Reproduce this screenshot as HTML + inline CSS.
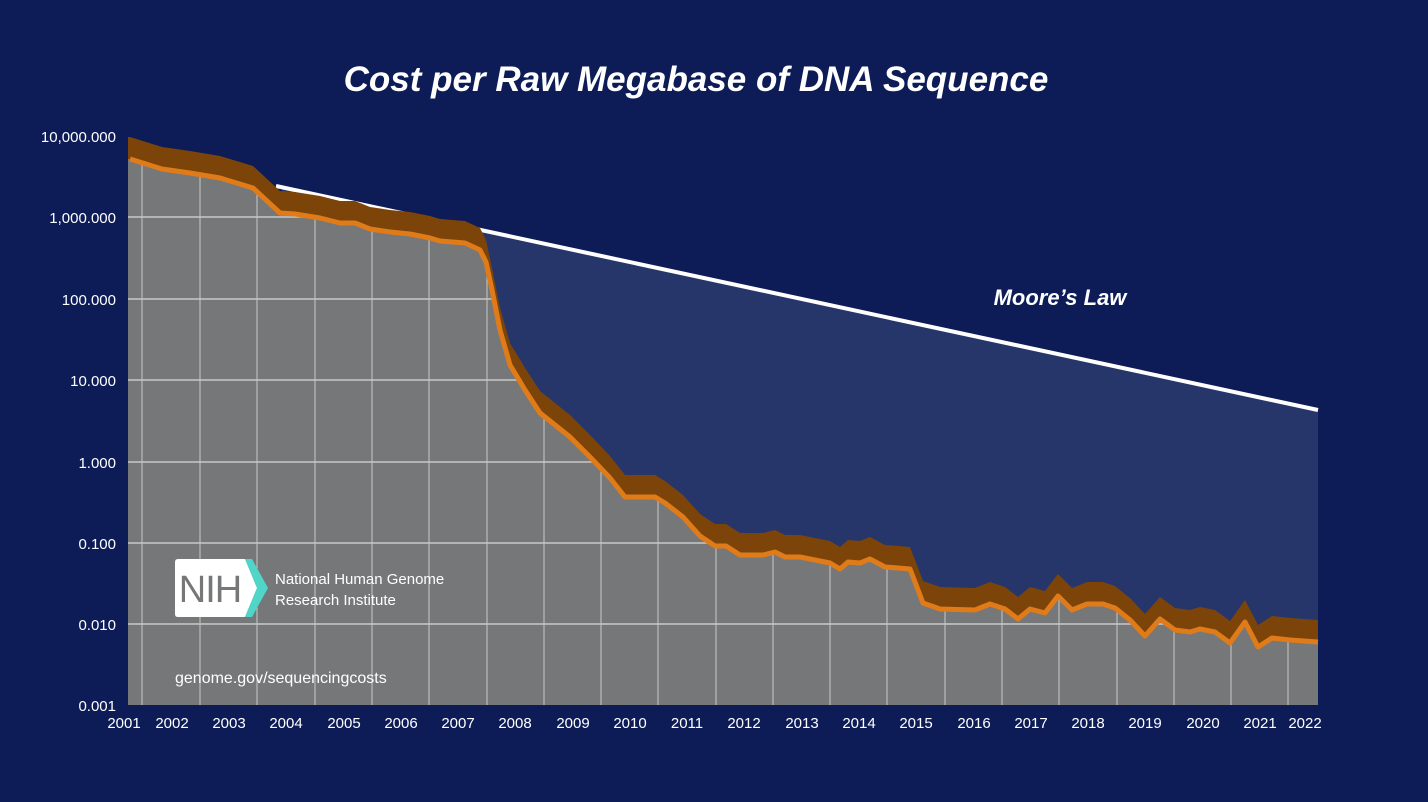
<!DOCTYPE html>
<html><head><meta charset="utf-8"><style>
html,body{margin:0;padding:0;background:#0d1c57;}
svg{display:block;font-family:"Liberation Sans",Arial,sans-serif;}
</style></head><body>
<svg width="1428" height="802" viewBox="0 0 1428 802">
<rect width="1428" height="802" fill="#0d1c57"/>
<text x="696" y="91" text-anchor="middle" fill="#fff" font-size="35" font-weight="bold" font-style="italic">Cost per Raw Megabase of DNA Sequence</text>
<defs>
<clipPath id="g"><polygon points="128,705 128,159 130,159 162,169 190,173 220,178 253,188 280,213 295,214 320,218 340,223 355,223 370,229 390,232 410,234 430,238 440,241 465,243 480,250 486,262 492,290 500,330 510,365 525,390 540,413 570,437 590,457 610,478 625,497 655,497 665,503 683,517 700,536 715,546 726,546 740,555 763,555 775,552 785,557 800,557 815,560 830,563 840,569 848,562 860,563 870,559 885,567 898,568 910,569 923,603 940,609 975,610 990,604 1005,609 1018,619 1030,609 1045,613 1058,596 1072,610 1087,604 1103,604 1115,608 1130,620 1145,636 1160,619 1175,630 1190,632 1200,629 1215,632 1230,643 1245,622 1258,647 1272,638 1290,640 1318,642 1318,705"/></clipPath>
</defs>
<polygon points="282,187 1318,410 1318,705 282,705" fill="#26366a"/>
<line x1="276" y1="186" x2="1318" y2="410" stroke="#fff" stroke-width="4"/>
<polygon fill="#7c4409" points="128,705 128,137 130,137 162,147 190,151 220,156 253,166 280,191 295,192 320,196 340,201 355,201 370,207 390,210 410,212 430,216 440,219 465,221 480,228 486,240 492,268 500,308 510,343 525,368 540,391 570,415 590,435 610,456 625,475 655,475 665,481 683,495 700,514 715,524 726,524 740,533 763,533 775,530 785,535 800,535 815,538 830,541 840,547 848,540 860,541 870,537 885,545 898,546 910,547 923,581 940,587 975,588 990,582 1005,587 1018,597 1030,587 1045,591 1058,574 1072,588 1087,582 1103,582 1115,586 1130,598 1145,614 1160,597 1175,608 1190,610 1200,607 1215,610 1230,621 1245,600 1258,625 1272,616 1290,618 1318,620 1318,705"/>
<polygon fill="#767779" points="128,705 128,159 130,159 162,169 190,173 220,178 253,188 280,213 295,214 320,218 340,223 355,223 370,229 390,232 410,234 430,238 440,241 465,243 480,250 486,262 492,290 500,330 510,365 525,390 540,413 570,437 590,457 610,478 625,497 655,497 665,503 683,517 700,536 715,546 726,546 740,555 763,555 775,552 785,557 800,557 815,560 830,563 840,569 848,562 860,563 870,559 885,567 898,568 910,569 923,603 940,609 975,610 990,604 1005,609 1018,619 1030,609 1045,613 1058,596 1072,610 1087,604 1103,604 1115,608 1130,620 1145,636 1160,619 1175,630 1190,632 1200,629 1215,632 1230,643 1245,622 1258,647 1272,638 1290,640 1318,642 1318,705"/>
<g clip-path="url(#g)" stroke="#c8c8c8" stroke-width="1.5">
<line x1="115" x2="1318" y1="217" y2="217"/><line x1="115" x2="1318" y1="299" y2="299"/>
<line x1="115" x2="1318" y1="380" y2="380"/><line x1="115" x2="1318" y1="462" y2="462"/>
<line x1="115" x2="1318" y1="543" y2="543"/><line x1="115" x2="1318" y1="624" y2="624"/>
<g stroke-width="1">
<line x1="142" x2="142" y1="130" y2="705"/><line x1="200" x2="200" y1="130" y2="705"/><line x1="257" x2="257" y1="130" y2="705"/><line x1="315" x2="315" y1="130" y2="705"/><line x1="372" x2="372" y1="130" y2="705"/><line x1="429" x2="429" y1="130" y2="705"/><line x1="487" x2="487" y1="130" y2="705"/><line x1="544" x2="544" y1="130" y2="705"/><line x1="601" x2="601" y1="130" y2="705"/><line x1="658" x2="658" y1="130" y2="705"/><line x1="716" x2="716" y1="130" y2="705"/><line x1="773" x2="773" y1="130" y2="705"/><line x1="830" x2="830" y1="130" y2="705"/><line x1="887" x2="887" y1="130" y2="705"/><line x1="945" x2="945" y1="130" y2="705"/><line x1="1002" x2="1002" y1="130" y2="705"/><line x1="1059" x2="1059" y1="130" y2="705"/><line x1="1117" x2="1117" y1="130" y2="705"/><line x1="1174" x2="1174" y1="130" y2="705"/><line x1="1231" x2="1231" y1="130" y2="705"/><line x1="1288" x2="1288" y1="130" y2="705"/>
</g></g>
<polyline fill="none" stroke="#e07b1a" stroke-width="5" stroke-linejoin="round" points="130,159 162,169 190,173 220,178 253,188 280,213 295,214 320,218 340,223 355,223 370,229 390,232 410,234 430,238 440,241 465,243 480,250 486,262 492,290 500,330 510,365 525,390 540,413 570,437 590,457 610,478 625,497 655,497 665,503 683,517 700,536 715,546 726,546 740,555 763,555 775,552 785,557 800,557 815,560 830,563 840,569 848,562 860,563 870,559 885,567 898,568 910,569 923,603 940,609 975,610 990,604 1005,609 1018,619 1030,609 1045,613 1058,596 1072,610 1087,604 1103,604 1115,608 1130,620 1145,636 1160,619 1175,630 1190,632 1200,629 1215,632 1230,643 1245,622 1258,647 1272,638 1290,640 1318,642"/>
<text x="1060" y="305" text-anchor="middle" fill="#fff" font-size="22" font-weight="bold" font-style="italic">Moore’s Law</text>
<g fill="#fff" font-size="15" text-anchor="end">
<text x="116" y="142">10,000.000</text><text x="116" y="223">1,000.000</text><text x="116" y="305">100.000</text><text x="116" y="386">10.000</text><text x="116" y="468">1.000</text><text x="116" y="549">0.100</text><text x="116" y="630">0.010</text><text x="116" y="711">0.001</text>
</g>
<g fill="#fff" font-size="15" text-anchor="middle">
<text x="124" y="728">2001</text><text x="172" y="728">2002</text><text x="229" y="728">2003</text><text x="286" y="728">2004</text><text x="344" y="728">2005</text><text x="401" y="728">2006</text><text x="458" y="728">2007</text><text x="515" y="728">2008</text><text x="573" y="728">2009</text><text x="630" y="728">2010</text><text x="687" y="728">2011</text><text x="744" y="728">2012</text><text x="802" y="728">2013</text><text x="859" y="728">2014</text><text x="916" y="728">2015</text><text x="974" y="728">2016</text><text x="1031" y="728">2017</text><text x="1088" y="728">2018</text><text x="1145" y="728">2019</text><text x="1203" y="728">2020</text><text x="1260" y="728">2021</text><text x="1305" y="728">2022</text>
</g>
<path d="M178,559 H245 L257,588 L245,617 H178 Q175,617 175,614 V562 Q175,559 178,559Z" fill="#fff"/>
<path d="M245,559 H252 L268,588 L252,617 H245 L257,588Z" fill="#4fd6c8"/>
<text x="210" y="602" text-anchor="middle" fill="#767779" font-size="38" letter-spacing="-1">NIH</text>
<text x="275" y="584" fill="#fff" font-size="15">National Human Genome</text>
<text x="275" y="605" fill="#fff" font-size="15">Research Institute</text>
<text x="175" y="683" fill="#fff" font-size="16">genome.gov/sequencingcosts</text>
</svg>
</body></html>
